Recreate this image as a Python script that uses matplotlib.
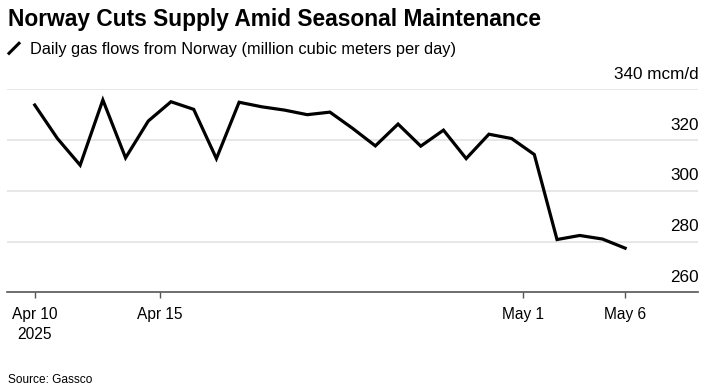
import datetime as dt
import matplotlib
matplotlib.use("Agg")
import matplotlib.pyplot as plt
import matplotlib.transforms as mtransforms
from matplotlib.lines import Line2D

plt.rcParams['font.family'] = ['Liberation Sans', 'DejaVu Sans']

# daily flows, Apr 10 - May 6 2025 (mcm/d)
start = dt.datetime(2025, 4, 10)
dates = [start + dt.timedelta(days=i) for i in range(27)]
flows = [333.8, 320.6, 310.1, 335.8, 313.0, 327.5, 335.1, 332.1, 312.7,
         334.9, 333.1, 331.8, 330.0, 331.0, 324.6, 317.7, 326.3, 317.6,
         323.9, 312.7, 322.3, 320.6, 314.3, 280.8, 282.4, 281.0, 277.4]

y_ticks = [260, 280, 300, 320, 340]
y_labels = ['260', '280', '300', '320', '340 mcm/d']
x_ticks = [start, dt.datetime(2025, 4, 15, 12), dt.datetime(2025, 5, 1, 12),
           dt.datetime(2025, 5, 6)]
x_labels = ['Apr 10\n2025', 'Apr 15', 'May 1', 'May 6']

fig = plt.figure(figsize=(7.12, 3.92), dpi=100)
ax = fig.add_axes([0.0103, 0.2543, 0.9707, 0.5179])

ax.plot(dates, flows, color='black', lw=2.3, solid_joinstyle='miter', zorder=3)

ax.set_ylim(260, 340)
ax.set_xlim(start - dt.timedelta(days=1.207), start + dt.timedelta(days=29.23))

ax.set_yticks(y_ticks)
ax.set_yticklabels([])
ax.tick_params(axis='y', length=0)
for v in y_ticks[1:]:
    ax.axhline(v, color='#e0e0e0', lw=1.1, zorder=1)

off = mtransforms.offset_copy(ax.get_yaxis_transform(), fig=fig, x=0, y=7.5, units='points')
for v, lab in zip(y_ticks, y_labels):
    ax.text(1.0, v, lab, transform=off, ha='right', va='baseline',
            fontsize=12.3, color='black')

ax.set_xticks(x_ticks)
ax.set_xticklabels(x_labels)
ax.tick_params(axis='x', length=4.5, width=1, color='#555555', pad=6,
               labelsize=11.2)
for t in ax.get_xticklabels():
    t.set_linespacing(1.4)

for s in ['top', 'right', 'left']:
    ax.spines[s].set_visible(False)
ax.spines['bottom'].set_color('#555555')
ax.spines['bottom'].set_linewidth(1.2)

fig.text(0.0112, 0.9337, 'Norway Cuts Supply Amid Seasonal Maintenance',
         fontsize=16.4, fontweight='bold', va='baseline', ha='left')
fig.text(0.0421, 0.8615, 'Daily gas flows from Norway (million cubic meters per day)',
         fontsize=11.75, va='baseline', ha='left')
fig.add_artist(Line2D([9 / 712, 19 / 712], [1 - 53.3 / 392, 1 - 43.3 / 392],
                      transform=fig.transFigure, color='black', lw=2.2))
fig.text(0.0117, 0.0222, 'Source: Gassco', fontsize=8.6, va='baseline', ha='left')

fig.savefig('out.png', dpi=100)
